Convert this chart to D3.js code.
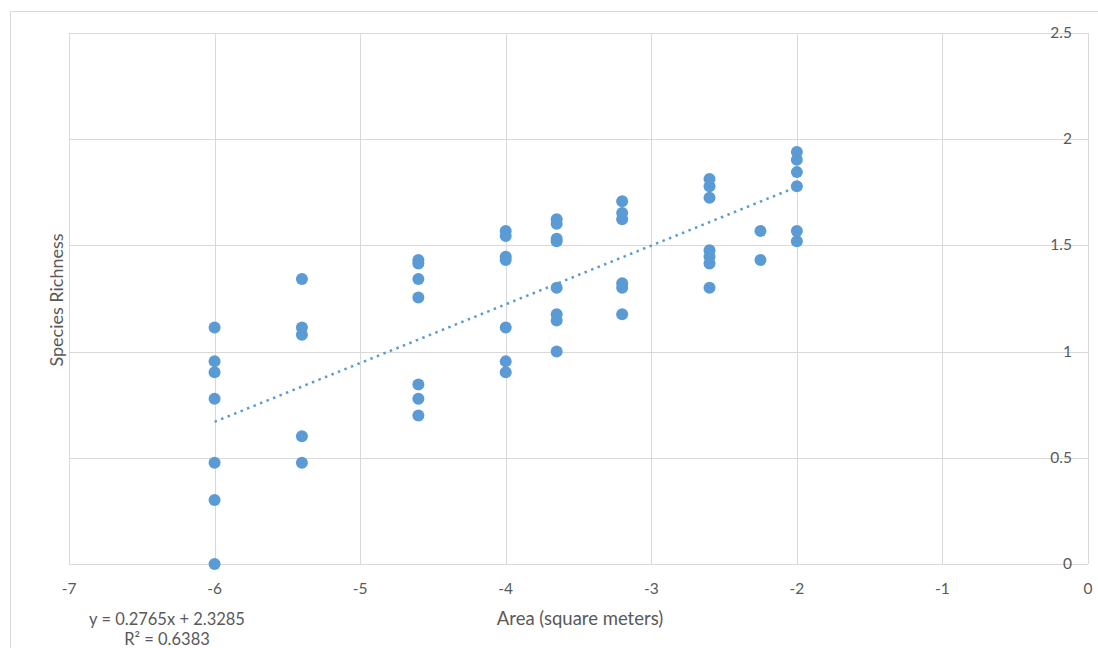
<!DOCTYPE html>
<html>
<head>
<meta charset="utf-8">
<script src="https://cdn.jsdelivr.net/npm/d3@7"></script>
<style>
  body { margin: 0; background: #fff; }
  text { font-family: Lato, "Open Sans", sans-serif; fill: #595959; }
</style>
</head>
<body>
<div class="canvas"></div>
<script>
// x positions of the sample groups (area)
const areas = [-6, -5.4, -4.6, -4, -3.65, -3.2, -2.6, -2.25, -2];
// species richness readings for each group
const richness = [
  [1.114, 0.954, 0.903, 0.778, 0.477, 0.301, 0],
  [1.342, 1.114, 1.079, 0.602, 0.477],
  [1.431, 1.415, 1.342, 1.255, 0.845, 0.778, 0.699],
  [1.568, 1.544, 1.447, 1.431, 1.114, 0.954, 0.903],
  [1.623, 1.602, 1.531, 1.519, 1.301, 1.176, 1.146, 1.0],
  [1.708, 1.653, 1.623, 1.322, 1.301, 1.176],
  [1.813, 1.778, 1.724, 1.477, 1.447, 1.415, 1.301],
  [1.568, 1.431],
  [1.940, 1.903, 1.845, 1.778, 1.568, 1.519]
];
const xTicks = [-7, -6, -5, -4, -3, -2, -1, 0];
const yTicks = [0, 0.5, 1, 1.5, 2, 2.5];
// linear trendline reported in the chart
const slope = 0.2765;
const intercept = 2.3285;
const rSquared = 0.6383;

const points = [];
areas.forEach((a, i) => richness[i].forEach(r => points.push({ x: a, y: r })));

const W = 1098, H = 648;
const plotLeft = 69, plotRight = 1088, plotTop = 33, plotBottom = 564;

const svg = d3.select('.canvas').append('svg')
    .attr('width', W)
    .attr('height', H);

// outer chart frame
svg.append('rect')
    .attr('x', 10.5).attr('y', 11.5)
    .attr('width', 1200).attr('height', 800)
    .attr('fill', 'none')
    .attr('stroke', '#d9d9d9');

const x = d3.scaleLinear().domain([-7, 0]).range([plotLeft, plotRight]);
const y = d3.scaleLinear().domain([0, 2.5]).range([plotBottom, plotTop]);

// grid
svg.append('g').selectAll('line').data(xTicks).join('line')
    .attr('x1', d => Math.round(x(d)) + 0.5).attr('x2', d => Math.round(x(d)) + 0.5)
    .attr('y1', plotTop).attr('y2', plotBottom)
    .attr('stroke', '#d9d9d9');
svg.append('g').selectAll('line').data(yTicks).join('line')
    .attr('x1', plotLeft).attr('x2', plotRight)
    .attr('y1', d => Math.round(y(d)) + 0.5).attr('y2', d => Math.round(y(d)) + 0.5)
    .attr('stroke', '#d9d9d9');

// tick labels
svg.append('g').selectAll('text').data(xTicks).join('text')
    .attr('x', d => x(d)).attr('y', 594)
    .attr('text-anchor', 'middle')
    .style('font-size', '15.5px')
    .text(d => String(d));
svg.append('g').selectAll('text').data(yTicks).join('text')
    .attr('x', 1072).attr('y', d => y(d) + 5)
    .attr('text-anchor', 'end')
    .style('font-size', '15.5px')
    .text(d => d);

// axis titles
svg.append('text')
    .attr('x', 580).attr('y', 625)
    .attr('text-anchor', 'middle')
    .style('font-size', '18.5px')
    .text('Area (square meters)');
svg.append('text')
    .attr('transform', 'translate(63, 300) rotate(-90)')
    .attr('text-anchor', 'middle')
    .style('font-size', '18px')
    .text('Species Richness');

// points
svg.append('g').selectAll('circle').data(points).join('circle')
    .attr('cx', d => x(d.x)).attr('cy', d => y(d.y))
    .attr('r', 6)
    .attr('fill', '#5b9bd5');

// trendline
const tx = d3.extent(areas);
svg.append('line')
    .attr('x1', x(tx[0])).attr('y1', y(slope * tx[0] + intercept))
    .attr('x2', x(tx[1])).attr('y2', y(slope * tx[1] + intercept))
    .attr('stroke', '#5b9bd5')
    .attr('stroke-width', 2.5)
    .attr('stroke-dasharray', '2.5 4.5');

// trendline label
svg.append('text')
    .attr('x', 167).attr('y', 625)
    .attr('text-anchor', 'middle')
    .style('font-size', '16.5px')
    .text(`y = ${slope}x + ${intercept}`);
svg.append('text')
    .attr('x', 167).attr('y', 645)
    .attr('text-anchor', 'middle')
    .style('font-size', '16.5px')
    .text(`R² = ${rSquared}`);
</script>
</body>
</html>
